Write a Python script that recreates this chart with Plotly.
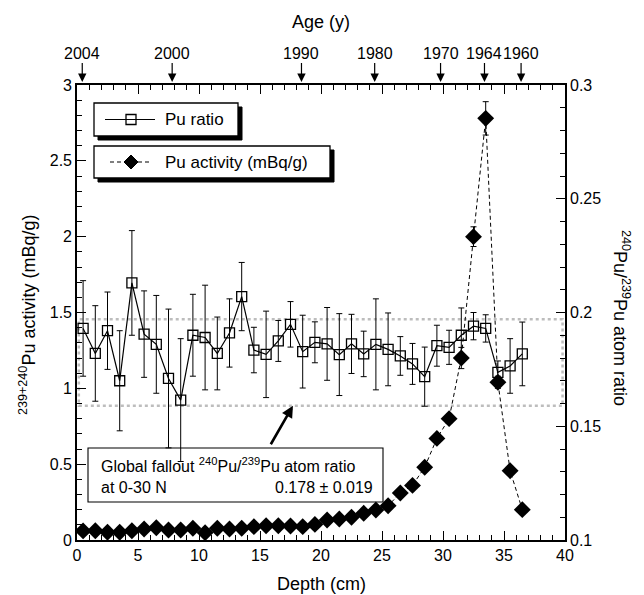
import plotly.graph_objects as go

# ---------------- data ----------------
depth_cm = [0.5, 1.5, 2.5, 3.5, 4.5, 5.5, 6.5, 7.5, 8.5, 9.5,
            10.5, 11.5, 12.5, 13.5, 14.5, 15.5, 16.5, 17.5, 18.5, 19.5,
            20.5, 21.5, 22.5, 23.5, 24.5, 25.5, 26.5, 27.5, 28.5, 29.5,
            30.5, 31.5, 32.5, 33.5, 34.5, 35.5, 36.5]

pu_ratio = [0.193, 0.182, 0.192, 0.170, 0.213, 0.1905, 0.186, 0.171, 0.1615, 0.190,
            0.189, 0.182, 0.191, 0.207, 0.1835, 0.1816, 0.1875, 0.1948, 0.1828, 0.1869,
            0.1862, 0.1815, 0.1862, 0.1818, 0.186, 0.1838, 0.1809, 0.1774, 0.1718, 0.1854,
            0.1847, 0.190, 0.194, 0.193, 0.1737, 0.1765, 0.1818]

pu_ratio_err = [0.021, 0.021, 0.017, 0.022, 0.023, 0.019, 0.0215, 0.0305, 0.027, 0.018,
                0.023, 0.016, 0.015, 0.015, 0.010, 0.019, 0.009, 0.010, 0.016, 0.009,
                0.016, 0.018, 0.013, 0.010, 0.020, 0.016, 0.0085, 0.009, 0.013, 0.009,
                0.0075, 0.012, 0.006, 0.006, 0.005, 0.012, 0.014]

pu_activity = [0.060, 0.061, 0.051, 0.051, 0.061, 0.073, 0.081, 0.066, 0.066, 0.077,
               0.048, 0.077, 0.073, 0.077, 0.088, 0.094, 0.094, 0.092, 0.088, 0.103,
               0.132, 0.138, 0.150, 0.176, 0.198, 0.226, 0.31, 0.36, 0.48, 0.67,
               0.80, 1.20, 2.00, 2.78, 1.04, 0.457, 0.20]

pu_activity_err = [0.01, 0.01, 0.01, 0.01, 0.01, 0.01, 0.01, 0.01, 0.01, 0.01,
                   0.01, 0.01, 0.01, 0.01, 0.01, 0.01, 0.01, 0.01, 0.01, 0.01,
                   0.01, 0.01, 0.01, 0.01, 0.01, 0.015, 0.02, 0.02, 0.025, 0.03,
                   0.03, 0.07, 0.065, 0.11, 0.04, 0.03, 0.02]

age_labels = ["2004", "2000", "1990", "1980", "1970", "1964", "1960"]
age_depth_cm = [0.43, 7.8, 18.4, 24.4, 29.8, 33.4, 36.4]

global_ratio = 0.178
global_sd = 0.019

# ---------------- layout geometry (reference pixel coords) ----------------
OFF = 8                      # page body margin of the browser
W, H = 644 - OFF, 595 - OFF
L, R, T, B = 77, 565, 85, 540
FONT = "Liberation Sans, Arial, sans-serif"


def px(xp):
    return (xp - L) / (R - L)


def py(yp):
    return (B - yp) / (B - T)


fig = go.Figure()

fig.add_trace(go.Scatter(
    x=depth_cm, y=pu_ratio, yaxis="y", xaxis="x", mode="lines+markers",
    line=dict(color="black", width=1.2),
    marker=dict(symbol="square-open", size=10, color="black", line=dict(width=1.3, color="black")),
    error_y=dict(type="data", array=pu_ratio_err, color="black", thickness=1, width=3),
    showlegend=False, hoverinfo="skip"))

fig.add_trace(go.Scatter(
    x=depth_cm, y=pu_activity, yaxis="y2", xaxis="x", mode="lines+markers",
    line=dict(color="black", width=1, dash="4px,3px"),
    marker=dict(symbol="diamond", size=13, color="black"),
    error_y=dict(type="data", array=pu_activity_err, color="black", thickness=1, width=3),
    showlegend=False, hoverinfo="skip"))

tickfont = dict(family=FONT, size=16, color="black")
fig.update_layout(
    width=W, height=H,
    margin=dict(l=L - OFF, r=644 - R, t=T - OFF, b=595 - B, pad=0),
    paper_bgcolor="white", plot_bgcolor="white",
    font=dict(family=FONT, color="black"),
    showlegend=False,
    xaxis=dict(range=[0, 40], tick0=0, dtick=5, ticks="inside", ticklen=9, tickwidth=1.2,
               tickcolor="black", showline=True, linecolor="black", linewidth=1.6,
               mirror="ticks", showgrid=False, zeroline=False, tickfont=tickfont,
               minor=dict(dtick=1, ticks="inside", ticklen=5, tickwidth=1.1, tickcolor="black",
                          showgrid=False)),
    yaxis=dict(range=[0.1, 0.3], tick0=0.1, dtick=0.05, side="right", ticks="inside",
               ticklen=9, tickwidth=1.2, tickcolor="black", showline=True, linecolor="black",
               linewidth=1.6, showgrid=False, zeroline=False, tickfont=tickfont,
               minor=dict(dtick=0.01, ticks="inside", ticklen=5, tickwidth=1.1,
                          tickcolor="black", showgrid=False)),
    yaxis2=dict(range=[0, 3], tick0=0, dtick=0.5, side="left", overlaying="y", ticks="inside",
                ticklen=9, tickwidth=1.2, tickcolor="black", showline=True, linecolor="black",
                linewidth=1.6, showgrid=False, zeroline=False, tickfont=tickfont,
                minor=dict(dtick=0.1, ticks="inside", ticklen=5, tickwidth=1.1,
                           tickcolor="black", showgrid=False)),
)

shapes = []
annotations = []

# global fallout band
shapes.append(dict(type="rect", xref="x", yref="y", x0=0.15, x1=39.8,
                   y0=global_ratio - global_sd, y1=global_ratio + global_sd,
                   line=dict(color="#bdbdbd", width=2.5, dash="dot"), layer="below"))

# legend boxes with shadows
for (x0, y0, x1, y1) in [(94, 103, 238, 136), (94, 146, 330, 178)]:
    shapes.append(dict(type="rect", xref="paper", yref="paper",
                       x0=px(x0 + 4), x1=px(x1 + 4), y0=py(y1 + 4), y1=py(y0 + 4),
                       fillcolor="black", line=dict(color="black", width=1)))
    shapes.append(dict(type="rect", xref="paper", yref="paper",
                       x0=px(x0), x1=px(x1), y0=py(y1), y1=py(y0),
                       fillcolor="white", line=dict(color="black", width=1.3)))

# legend sample 1: line + open square
shapes.append(dict(type="line", xref="paper", yref="paper", x0=px(105), x1=px(155),
                   y0=py(119.5), y1=py(119.5), line=dict(color="black", width=1.2)))
shapes.append(dict(type="rect", xref="paper", yref="paper", x0=px(126), x1=px(136),
                   y0=py(124.5), y1=py(114.5), line=dict(color="black", width=1.3)))
# legend sample 2: dashed line + diamond
shapes.append(dict(type="line", xref="paper", yref="paper", x0=px(110), x1=px(152),
                   y0=py(162), y1=py(162), line=dict(color="black", width=1.2, dash="4px,3px")))
cx, cy, hs = 131, 162, 7
shapes.append(dict(type="path", xref="paper", yref="paper",
                   path=f"M {px(cx - hs)},{py(cy)} L {px(cx)},{py(cy - hs)} L {px(cx + hs)},{py(cy)} L {px(cx)},{py(cy + hs)} Z",
                   fillcolor="black", line=dict(color="black", width=1)))

annotations.append(dict(xref="paper", yref="paper", x=px(163), y=py(119.5), xanchor="left",
                        yanchor="middle", text="Pu ratio", showarrow=False,
                        font=dict(family=FONT, size=17, color="black")))
annotations.append(dict(xref="paper", yref="paper", x=px(163), y=py(162), xanchor="left",
                        yanchor="middle", text="Pu activity (mBq/g)", showarrow=False,
                        font=dict(family=FONT, size=17, color="black")))

# global fallout text box
shapes.append(dict(type="rect", xref="paper", yref="paper", x0=px(88), x1=px(383),
                   y0=py(502), y1=py(448), line=dict(color="black", width=1.1)))
boxfont = dict(family=FONT, size=16, color="black")
annotations.append(dict(xref="paper", yref="paper", x=px(99), y=py(465), xanchor="left",
                        yanchor="middle", showarrow=False, font=boxfont,
                        text="Global fallout <sup>240</sup>Pu/<sup>239</sup>Pu atom ratio"))
annotations.append(dict(xref="paper", yref="paper", x=px(99), y=py(487), xanchor="left",
                        yanchor="middle", showarrow=False, font=boxfont, text="at 0-30 N"))
annotations.append(dict(xref="paper", yref="paper", x=px(375), y=py(487), xanchor="right",
                        yanchor="middle", showarrow=False, font=boxfont,
                        text=f"{global_ratio:.3f} \u00b1 {global_sd:.3f}"))
# arrow from text box to the band
annotations.append(dict(xref="x", yref="y", x=17.7, y=global_ratio - global_sd, text="",
                        showarrow=True, arrowhead=2, arrowsize=0.9, arrowwidth=2.6,
                        arrowcolor="black", ax=-23, ay=40, standoff=0))

# top age axis labels with arrows
for lab, d in zip(age_labels, age_depth_cm):
    annotations.append(dict(xref="x", yref="paper", x=d, y=1, text=lab, showarrow=True,
                            arrowhead=2, arrowsize=1.4, arrowwidth=1.2, arrowcolor="black",
                            ax=0, ay=-32, standoff=3,
                            font=dict(family=FONT, size=16, color="black")))

# axis titles
annotations.append(dict(xref="paper", yref="paper", x=0.5, y=py(22), text="Age (y)",
                        showarrow=False, xanchor="center", yanchor="middle",
                        font=dict(family=FONT, size=18, color="black")))
annotations.append(dict(xref="paper", yref="paper", x=0.5, y=py(584), text="Depth (cm)",
                        showarrow=False, xanchor="center", yanchor="middle",
                        font=dict(family=FONT, size=18, color="black")))
annotations.append(dict(xref="paper", yref="paper", x=px(27), y=py(315),
                        text="<sup>239+240</sup>Pu activity (mBq/g)", textangle=-90,
                        showarrow=False, xanchor="center", yanchor="middle",
                        font=dict(family=FONT, size=18, color="black")))
annotations.append(dict(xref="paper", yref="paper", x=px(622), y=py(318),
                        text="<sup>240</sup>Pu/<sup>239</sup>Pu atom ratio", textangle=90,
                        showarrow=False, xanchor="center", yanchor="middle",
                        font=dict(family=FONT, size=18, color="black")))

fig.update_layout(shapes=shapes, annotations=annotations)
fig.write_html("out.html")
